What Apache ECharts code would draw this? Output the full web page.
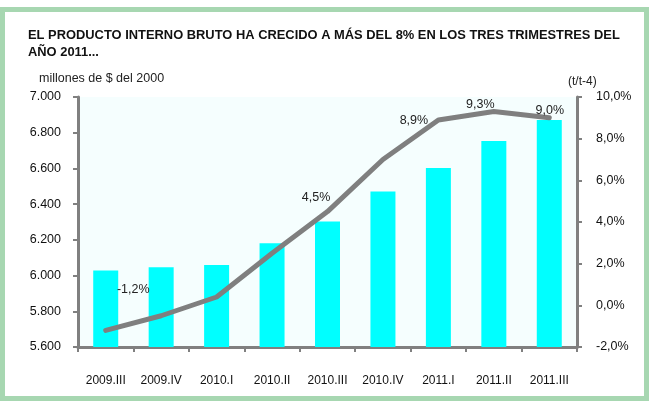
<!DOCTYPE html>
<html>
<head>
<meta charset="utf-8">
<script src="https://cdn.jsdelivr.net/npm/echarts@6/dist/echarts.min.js"></script>
<style>
  html, body { margin: 0; padding: 0; background: #fff; }
  #chart { width: 649px; height: 401px; }
</style>
</head>
<body>
<div id="chart"></div>
<script>
const quarters = ["2009.III", "2009.IV", "2010.I", "2010.II", "2010.III", "2010.IV", "2011.I", "2011.II", "2011.III"];
// PIB en millones de $ del 2000
const pib = [6028, 6046, 6059, 6181, 6303, 6471, 6603, 6753, 6871];
// variación t/t-4 en %
const growth = [-1.2, -0.5, 0.4, 2.5, 4.5, 7.0, 8.9, 9.3, 9.0];
const labelled = [0, 4, 6, 7, 8];

const FONT = "'Liberation Sans Narrow', 'Liberation Sans', Arial, sans-serif";
const fmtPct = (v) => v.toFixed(1).replace(".", ",") + "%";
const fmtThousands = (v) => v.toLocaleString("de-DE");

// where each value label's centre sits relative to its point
const labelOffsets = { 0: [28, -40], 4: [-11, -14], 6: [-24, 1], 7: [-13, -7], 8: [1, -7] };

const chart = echarts.init(document.getElementById("chart"), null, { renderer: "canvas" });

const lineData = growth.map((v, i) => {
  if (!labelled.includes(i)) return v;
  return {
    value: v,
    label: {
      show: true,
      position: labelOffsets[i],
      align: "center",
      verticalAlign: "middle",
      formatter: (p) => fmtPct(p.value),
      color: "#222",
      fontFamily: FONT,
      fontSize: 12.5,
    },
  };
});

const axisGray = "#808080";

const option = {
  animation: false,
  backgroundColor: "#fff",
  textStyle: { fontFamily: FONT },
  graphic: [
    {
      type: "rect",
      shape: { x: 2.5, y: 9.5, width: 644, height: 389 },
      style: { fill: null, stroke: "#a7d7b1", lineWidth: 5 },
      silent: true,
    },
  ],
  title: [
    {
      text: "EL PRODUCTO INTERNO BRUTO HA CRECIDO A MÁS DEL 8% EN LOS TRES TRIMESTRES DEL\nAÑO 2011...",
      left: 23,
      top: 22,
      textStyle: { fontFamily: FONT, fontSize: 12.9, fontWeight: "bold", color: "#111", lineHeight: 17 },
    },
    {
      text: "millones de $ del 2000",
      left: 34,
      top: 67,
      textStyle: { fontFamily: FONT, fontSize: 12.5, fontWeight: "normal", color: "#222" },
    },
    {
      text: "(t/t-4)",
      left: 563,
      top: 71,
      textStyle: { fontFamily: FONT, fontSize: 12, fontWeight: "normal", color: "#222" },
    },
  ],
  grid: {
    left: 78,
    right: 72,
    top: 97,
    bottom: 54,
    show: true,
    backgroundColor: "#f5fefe",
    borderWidth: 0,
  },
  xAxis: {
    type: "category",
    data: quarters,
    boundaryGap: true,
    axisLine: { onZero: false, lineStyle: { color: axisGray, width: 3 } },
    axisTick: { show: true, length: 5, lineStyle: { color: axisGray, width: 2 } },
    axisLabel: { color: "#111", fontSize: 12, fontFamily: FONT, margin: 28 },
  },
  yAxis: [
    {
      type: "value",
      min: 5600,
      max: 7000,
      interval: 200,
      position: "left",
      splitLine: { show: false },
      axisLine: { show: true, lineStyle: { color: axisGray, width: 3 } },
      axisTick: { show: true, length: 5, lineStyle: { color: axisGray, width: 2 } },
      axisLabel: { color: "#111", fontSize: 12.5, fontFamily: FONT, margin: 17, formatter: fmtThousands },
    },
    {
      type: "value",
      min: -2,
      max: 10,
      interval: 2,
      position: "right",
      splitLine: { show: false },
      axisLine: { show: true, lineStyle: { color: axisGray, width: 3 } },
      axisTick: { show: true, length: 5, lineStyle: { color: axisGray, width: 2 } },
      axisLabel: { color: "#111", fontSize: 12.5, fontFamily: FONT, margin: 19, formatter: fmtPct },
    },
  ],
  series: [
    {
      name: "PIB",
      type: "bar",
      data: pib,
      barWidth: 25,
      itemStyle: { color: "#00ffff" },
      z: 2,
    },
    {
      name: "t/t-4",
      type: "line",
      yAxisIndex: 1,
      data: lineData,
      symbol: "circle",
      symbolSize: 1,
      showSymbol: true,
      itemStyle: { color: "#7f7f7f" },
      lineStyle: { color: "#7f7f7f", width: 5, cap: "round", join: "round" },
      z: 3,
    },
  ],
};

chart.setOption(option);
</script>
</body>
</html>
